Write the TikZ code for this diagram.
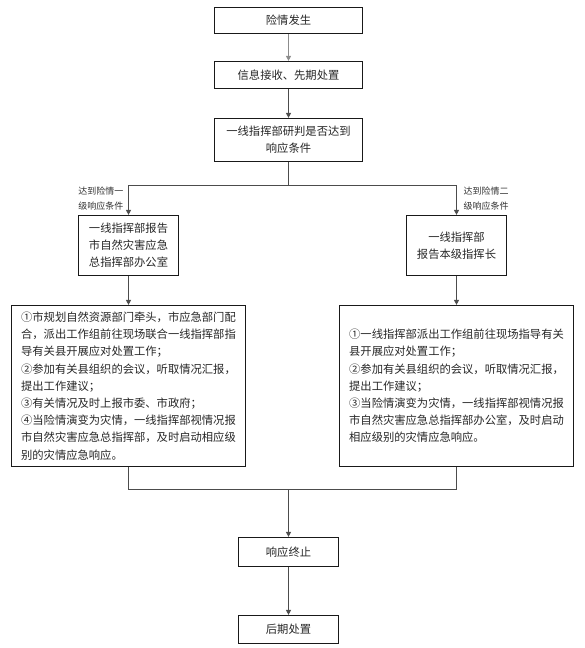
\documentclass[tikz,border=0pt]{standalone}
\usepackage{fontspec}
\setmainfont{Noto Sans CJK SC}
\usepackage{tikz}
\usetikzlibrary{arrows.meta}
\usetikzlibrary{positioning}

\begin{document}
\begin{tikzpicture} [
	x=1pt, y=-1pt, % one unit is one pixel of the page, y runs downwards
	>={Triangle[length=5pt, width=5pt]}, % small filled arrow heads
	link/.style={draw=black!70, line width=0.9pt}, % the connectors
	box/.style={draw=black!90, line width=1.2pt, inner sep=0pt, text=black!85,
		font=\fontsize{11.3}{17}\selectfont, align=center}, % every step of the flow
	note/.style={draw=black!90, line width=1.2pt, inner sep=0pt, text=black!85,
		font=\fontsize{11.3}{17.2}\selectfont, align=left,
		minimum width=235pt, minimum height=161pt}, % the two long lists
	cond/.style={inner sep=1pt, text=black!80, align=left,
		font=\fontsize{9}{15}\selectfont}, % text beside the arrows
	]
	\useasboundingbox (0,0) rectangle (584,648);

	\node[box, minimum width=148pt, minimum height=26pt] (b1) at (288.5,20.5) {险情发生};
	\node[box, minimum width=148pt, minimum height=27pt] (b2) at (288.5,75) {信息接收、先期处置};
	\node[box, minimum width=148pt, minimum height=43pt] (b3) at (288.5,140) {一线指挥部研判是否达到\\响应条件};
	\coordinate (split) at (288.5,185.5);

	\node[box, minimum width=100pt, minimum height=60pt] (b4) at (128.5,245.5)
		{一线指挥部报告\\市自然灾害应急\\总指挥部办公室};
	\node[box, minimum width=100pt, minimum height=60pt] (b5) at (456.5,245.5)
		{一线指挥部\\报告本级指挥长};
	\node[cond, above left=3pt and 4pt of b4.north] (c1) {达到险情一\\级响应条件};
	\node[cond, above right=3pt and 6pt of b5.north] (c2) {达到险情二\\级响应条件};

	\node[note, minimum width=234pt] (b6) at (128.5,386) {①市规划自然资源部门牵头，市应急部门配\\合，派出工作组前往现场联合一线指挥部指\\导有关县开展应对处置工作；\\②参加有关县组织的会议，听取情况汇报，\\提出工作建议；\\③有关情况及时上报市委、市政府；\\④当险情演变为灾情，一线指挥部视情况报\\市自然灾害应急总指挥部，及时启动相应级\\别的灾情应急响应。};
	\node[note, minimum width=234pt] (b7) at (456.5,386) {①一线指挥部派出工作组前往现场指导有关\\县开展应对处置工作；\\②参加有关县组织的会议，听取情况汇报，\\提出工作建议；\\③当险情演变为灾情，一线指挥部视情况报\\市自然灾害应急总指挥部办公室，及时启动\\相应级别的灾情应急响应。};
	\coordinate (join) at (288.5,489.5);

	\node[box, minimum width=100pt, minimum height=29pt] (b8) at (288.5,552) {响应终止};
	\node[box, minimum width=100pt, minimum height=28pt] (b9) at (288.5,629.5) {后期处置};

	\draw[link, ->, draw=black!45] (b1) -- (b2);
	\draw[link, ->] (b2) -- (b3);
	\draw[link] (b3) -- (split);
	\draw[link, ->] (split) -| (b4);
	\draw[link, ->] (split) -| (b5);
	\draw[link, ->] (b4) -- (b6);
	\draw[link, ->] (b5) -- (b7);
	\draw[link] (b6) |- (join);
	\draw[link] (b7) |- (join);
	\draw[link, ->] (join) -- (b8);
	\draw[link, ->] (b8) -- (b9);
\end{tikzpicture}
\end{document}
